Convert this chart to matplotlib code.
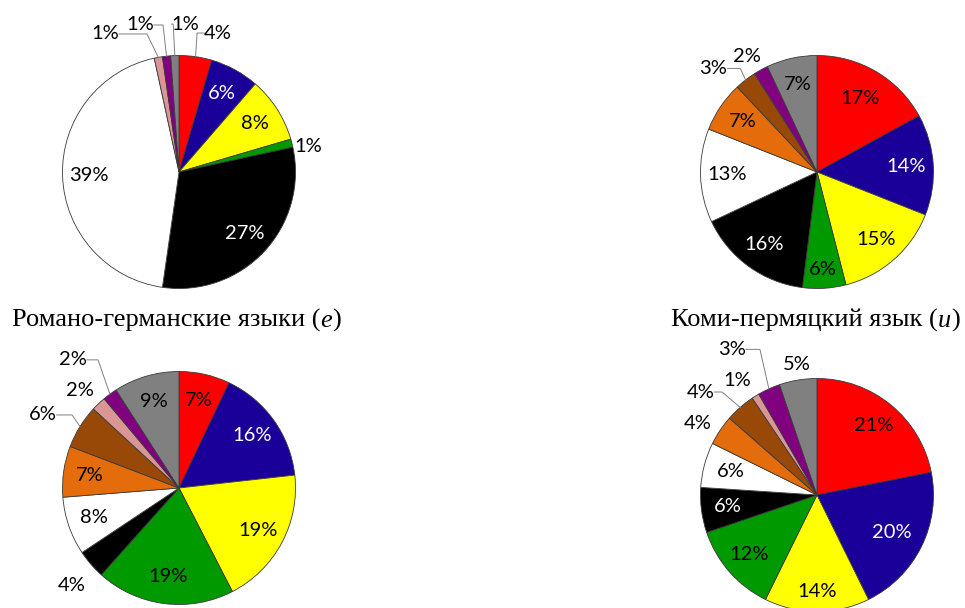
import numpy as np
import matplotlib.pyplot as plt

# common palette, same order in every pie (clockwise from the top)
colors = ['#FF0000', '#1A0099', '#FFFF00', '#009900', '#000000', '#FFFFFF',
          '#E46C0A', '#984807', '#D99694', '#800080', '#808080']

# values as printed on the pies
vals_a = [4, 6, 8, 1, 27, 39, 0, 0, 1, 1, 1]
vals_b = [17, 14, 15, 6, 16, 13, 7, 3, 0, 2, 7]
vals_e = [7, 16, 19, 19, 4, 8, 7, 6, 2, 2, 9]
vals_i = [21, 20, 14, 12, 6, 6, 4, 4, 1, 3, 5]

title_e = 'Романо-германские языки ('
title_i = 'Коми-пермяцкий язык ('

W, H = 965, 608
R = 116.5
label_font = 'Lato'
fs = 14.5

# layout: pie centre in image pixels, outside labels (dx, dy in radii, elbow x or None)
pies = [
    (vals_a, (179, 172), {0: (0.335, 1.193, 0.155), 3: (1.107, 0.215, None),
                         8: (-0.635, 1.185, -0.275), 9: (-0.335, 1.262, -0.137),
                         10: (0.055, 1.27, -0.05)}),
    (vals_b, (817, 172), {7: (-0.889, 0.889, -0.658), 9: (-0.598, 0.991, None)}),
    (vals_e, (179, 488), {4: (-0.918, -0.833, None), 7: (-1.17, 0.627, -0.918),
                         8: (-0.85, 0.84, None), 9: (-0.91, 1.10, -0.695)}),
    (vals_i, (817, 495), {6: (-1.02, 0.61, None), 7: (-1.0, 0.884, -0.815),
                         8: (-0.687, 0.987, None), 9: (-0.73, 1.25, -0.49),
                         10: (-0.172, 1.116, None)}),
]
inner_r = {(1, 3): 0.84, (3, 2): 0.83, (3, 1): 0.72, (1, 0): 0.73}

fig = plt.figure(figsize=(W / 100, H / 100), dpi=100)
ax = fig.add_axes([0, 0, 1, 1])

for p, (vals, (cx, cy), outside) in enumerate(pies):
    cy = H - cy
    keep = [i for i, v in enumerate(vals) if v > 0]
    ax.pie([vals[i] for i in keep], colors=[colors[i] for i in keep],
           startangle=90, counterclock=False, center=(cx, cy), radius=R,
           wedgeprops=dict(edgecolor='#3a3a3a', linewidth=0.6))
    total = float(sum(vals))
    cum = 0.0
    for i, v in enumerate(vals):
        if v == 0:
            continue
        mid = np.deg2rad(90 - 360 * (cum + v / 2) / total)
        cum += v
        txt = '%d%%' % v
        if i in outside:
            dx, dy, ex = outside[i]
            lx, ly = cx + dx * R, cy + dy * R
            ax.text(lx, ly, txt, ha='center', va='center', fontsize=fs,
                    family=label_font, color='black')
            if ex is not None:
                ex = cx + ex * R
                s = 1 if ex > lx else -1
                sx = lx + s * 14
                px, py = cx + R * np.cos(mid), cy + R * np.sin(mid)
                ax.plot([sx, ex, px], [ly, ly, py], color='#808080', lw=0.7)
        else:
            f = inner_r.get((p, i), 0.77)
            tc = 'white' if colors[i] in ('#1A0099', '#000000') else 'black'
            ax.text(cx + f * R * np.cos(mid), cy + f * R * np.sin(mid), txt,
                    ha='center', va='center', fontsize=fs, family=label_font,
                    color=tc)

# titles with italic letter
for (x0, txt, letter) in [(12, title_e, 'е'), (671, title_i, 'и')]:
    t1 = ax.text(x0, H - 327, txt, ha='left', va='baseline', fontsize=19,
                 family='Liberation Serif')
    t2 = ax.annotate(letter, xy=(1, 0), xycoords=t1, ha='left', va='bottom',
                     fontsize=19, family='Liberation Serif', style='italic')
    ax.annotate(')', xy=(1, 0), xycoords=t2, ha='left', va='bottom',
                fontsize=19, family='Liberation Serif')

ax.set_xlim(0, W)
ax.set_ylim(0, H)
ax.set_aspect('equal')
ax.axis('off')
fig.savefig('out.png', dpi=100)
